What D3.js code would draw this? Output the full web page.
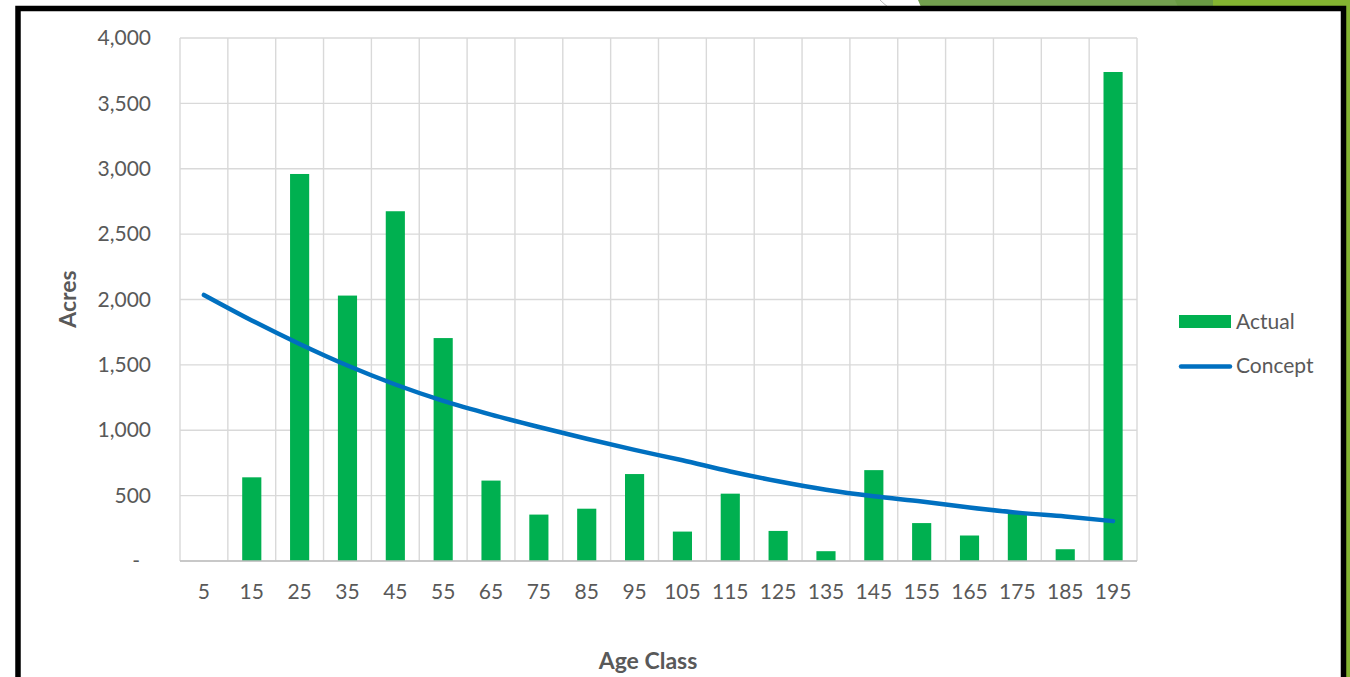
<!DOCTYPE html>
<html>
<head>
<meta charset="utf-8">
<script src="https://cdn.jsdelivr.net/npm/d3@7"></script>
<style>
  body { margin: 0; background: #fff; }
  svg { display: block; }
</style>
</head>
<body>
<script>
// data
var ageClass = [5, 15, 25, 35, 45, 55, 65, 75, 85, 95, 105, 115, 125, 135, 145, 155, 165, 175, 185, 195]
var actual = [0, 640, 2960, 2030, 2675, 1705, 615, 355, 400, 665, 225, 515, 230, 75, 695, 290, 195, 370, 90, 3740]
var concept = [2035, 1840, 1660, 1495, 1350, 1225, 1120, 1025, 935, 850, 770, 685, 610, 545, 495, 455, 410, 370, 340, 305]
var yTicks = [0, 500, 1000, 1500, 2000, 2500, 3000, 3500, 4000]
var legendItems = ['Actual', 'Concept']

var W = 1350, H = 677
var font = 'Lato, "Open Sans", sans-serif'
var textColor = '#595959'

var svg = d3.select('body').append('svg')
	.attr('width', W)
	.attr('height', H)

// slide decoration at the top right
svg.append('path')
	.attr('d', 'M880,0 Q884,4 888,7')
	.attr('fill', 'none')
	.attr('stroke', '#bbbbbb')
	.attr('stroke-width', 1)
svg.append('polygon')
	.attr('points', '918,0 1213,0 1213,7 921,7')
	.attr('fill', '#73a04f')
svg.append('polygon')
	.attr('points', '1175,0 1213,0 1213,7 1178,7')
	.attr('fill', '#6a9a44')
svg.append('rect')
	.attr('x', 1213).attr('y', 0)
	.attr('width', W - 1213).attr('height', 7)
	.attr('fill', '#84b431')
svg.append('rect')
	.attr('x', 1346).attr('y', 0)
	.attr('width', 4).attr('height', H)
	.attr('fill', '#84b431')

// black frame
svg.append('path')
	.attr('d', 'M18,' + (H + 5) + ' L18,8.5 L1343.5,8.5 L1343.5,' + (H + 5))
	.attr('fill', 'none')
	.attr('stroke', '#000')
	.attr('stroke-width', 5.5)

var plot = { left: 180, right: 1137, top: 38, bottom: 561 }

var x = d3.scaleBand()
	.domain(ageClass)
	.range([plot.left, plot.right])
	.padding(0)

var y = d3.scaleLinear()
	.domain([0, 4000])
	.range([plot.bottom, plot.top])

var g = svg.append('g')

// horizontal gridlines
g.selectAll('.hgrid')
	.data(yTicks)
	.enter().append('line')
	.attr('x1', plot.left)
	.attr('x2', plot.right)
	.attr('y1', function(d){ return y(d) })
	.attr('y2', function(d){ return y(d) })
	.attr('stroke', '#d9d9d9')
	.attr('stroke-width', 1.4)

// vertical gridlines on category edges
var edges = ageClass.map(function(d){ return x(d) }).concat([plot.right])
g.selectAll('.vgrid')
	.data(edges)
	.enter().append('line')
	.attr('x1', function(d){ return d })
	.attr('x2', function(d){ return d })
	.attr('y1', plot.top)
	.attr('y2', plot.bottom)
	.attr('stroke', '#d9d9d9')
	.attr('stroke-width', 1.4)

// bars
var barW = x.bandwidth() * 0.4
g.selectAll('.bar')
	.data(actual)
	.enter().append('rect')
	.attr('x', function(d, i){ return x(ageClass[i]) + (x.bandwidth() - barW) / 2 })
	.attr('y', function(d){ return y(d) })
	.attr('width', barW)
	.attr('height', function(d){ return y(0) - y(d) })
	.attr('fill', '#00b050')

// bottom axis line
g.append('line')
	.attr('x1', plot.left)
	.attr('x2', plot.right)
	.attr('y1', plot.bottom)
	.attr('y2', plot.bottom)
	.attr('stroke', '#bfbfbf')
	.attr('stroke-width', 1.6)

// concept line
var line = d3.line()
	.x(function(d, i){ return x(ageClass[i]) + x.bandwidth() / 2 })
	.y(function(d){ return y(d) })
	.curve(d3.curveMonotoneX)

g.append('path')
	.datum(concept)
	.attr('d', line)
	.attr('fill', 'none')
	.attr('stroke', '#0070c0')
	.attr('stroke-width', 4.5)
	.attr('stroke-linecap', 'round')
	.attr('stroke-linejoin', 'round')

// y axis labels
var yAxis = d3.axisLeft(y)
	.tickValues(yTicks)
	.tickSize(0)
	.tickPadding(0)
	.tickFormat(function(d){ return d === 0 ? '-' : d3.format(',')(d) })

var yg = svg.append('g')
	.attr('transform', 'translate(151,0)')
	.call(yAxis)
yg.select('.domain').remove()
yg.selectAll('text')
	.attr('font-family', font)
	.attr('font-size', 21)
	.attr('fill', textColor)
yg.selectAll('text').filter(function(d){ return d === 0 })
	.attr('dx', -11)

// x axis labels
var xAxis = d3.axisBottom(x)
	.tickSize(0)
	.tickPadding(0)

var xg = svg.append('g')
	.attr('transform', 'translate(0,584)')
	.call(xAxis)
xg.select('.domain').remove()
xg.selectAll('text')
	.attr('font-family', font)
	.attr('font-size', 21)
	.attr('fill', textColor)

// axis titles
svg.append('text')
	.attr('x', 648)
	.attr('y', 669)
	.attr('text-anchor', 'middle')
	.attr('font-family', font)
	.attr('font-weight', 'bold')
	.attr('font-size', 23)
	.attr('fill', textColor)
	.text('Age Class')

svg.append('text')
	.attr('transform', 'translate(76,299) rotate(-90)')
	.attr('text-anchor', 'middle')
	.attr('font-family', font)
	.attr('font-weight', 'bold')
	.attr('font-size', 23)
	.attr('fill', textColor)
	.text('Acres')

// legend
var legend = svg.append('g')
	.attr('transform', 'translate(1179,0)')

legend.append('rect')
	.attr('x', 0).attr('y', 315)
	.attr('width', 52).attr('height', 13)
	.attr('fill', '#00b050')

legend.append('line')
	.attr('x1', 2).attr('x2', 51)
	.attr('y1', 366.5).attr('y2', 366.5)
	.attr('stroke', '#0070c0')
	.attr('stroke-width', 4.5)
	.attr('stroke-linecap', 'round')

legend.selectAll('.ltext')
	.data(legendItems)
	.enter().append('text')
	.attr('x', 57)
	.attr('y', function(d, i){ return 322 + i * 44 })
	.attr('dy', '0.35em')
	.attr('font-family', font)
	.attr('font-size', 21)
	.attr('fill', textColor)
	.text(function(d){ return d })
</script>
</body>
</html>
